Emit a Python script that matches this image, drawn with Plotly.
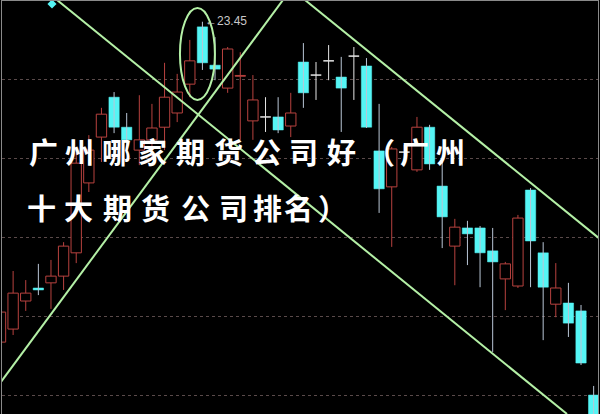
import plotly.graph_objects as go

# ---- data ----
open_ = [15.34, 15.67, 16.38, 16.71, 16.84, 17.01, 17.60, 19.37, 20.53, 21.54, 20.78, 20.20, 20.46, 20.78, 21.14, 21.87,
         23.32, 22.35, 21.77, 22.07, 20.94, 21.04, 21.04, 20.81, 22.43, 22.10, 22.46, 22.05, 22.58, 22.33, 20.18, 19.27,
         20.15, 19.70, 20.78, 19.29, 17.77, 18.23, 18.23, 17.65, 16.94, 16.76, 19.19, 17.60, 16.30, 16.33, 16.13, 14.00]
close = [16.10, 16.58, 16.58, 16.66, 17.01, 17.77, 19.87, 20.20, 21.11, 20.78, 20.46, 20.46, 20.76, 21.54, 21.67, 22.46,
         22.41, 22.25, 22.76, 22.09, 21.47, 21.04, 20.71, 21.14, 21.65, 22.10, 22.46, 21.77, 22.58, 20.78, 19.22, 20.23,
         20.15, 20.78, 19.85, 18.51, 18.25, 18.08, 17.60, 17.37, 17.32, 18.48, 17.90, 16.73, 16.71, 15.82, 14.81, 13.37]
high = [16.28, 17.14, 16.91, 17.32, 17.42, 17.87, 20.13, 20.58, 21.27, 21.67, 21.14, 21.59, 21.37, 22.41, 22.13, 22.99,
        23.45, 23.06, 22.81, 22.68, 22.10, 21.54, 21.54, 21.65, 22.91, 22.43, 22.86, 22.56, 22.81, 22.53, 21.37, 20.28,
        20.33, 21.04, 20.84, 19.95, 18.46, 18.41, 18.28, 18.23, 17.37, 18.56, 19.24, 17.87, 17.34, 16.84, 16.28, 14.23]
low = [15.14, 15.52, 16.13, 16.53, 16.18, 16.66, 17.34, 19.14, 19.90, 20.63, 20.20, 19.82, 19.95, 20.20, 20.91, 21.54,
       22.23, 21.97, 21.65, 20.46, 20.46, 20.66, 20.63, 20.53, 21.27, 21.47, 21.97, 20.66, 21.47, 20.76, 18.61, 17.75,
       19.82, 19.65, 19.70, 17.72, 16.78, 17.29, 16.73, 15.09, 16.15, 16.71, 16.73, 15.39, 15.97, 15.47, 14.76, 13.30]
peak_label = "←23.45"
peak_value = 23.45
peak_index = 16

# trend lines drawn on the chart (bar index, price)
trend_lines = [((4.48, 24.0), (44.89, 13.52)),
               ((-0.04, 14.30), (22.38, 24.0)),
               ((24.13, 24.0), (47.5, 17.95))]
ellipse_box = (14.22, 21.47, 16.99, 23.80)

title_line1 = list("广州哪家期货公司好（广州")
title_line2 = list("十大期货公司排名）")

# ---- styles ----
UP = "#b8423f"
DOWN = "#55f5f5"
DOWN_WICK = "#b9c6d6"
DOJI = "#e6e6e6"
GREEN = "#b4f0a6"

n = len(open_)
idx = list(range(n))

up_x, up_base, up_h = [], [], []
dn_x, dn_base, dn_h = [], [], []
wu_x, wu_y, wd_x, wd_y, wj_x, wj_y = [], [], [], [], [], []
dj_x, dj_y = [], []
for i in idx:
    o, c, h, l = open_[i], close[i], high[i], low[i]
    if c > o:
        up_x.append(i); up_base.append(o); up_h.append(c - o)
        wu_x += [i, i, None, i, i, None]; wu_y += [l, o, None, c, h, None]
    elif c < o:
        dn_x.append(i); dn_base.append(c); dn_h.append(o - c)
        wd_x += [i, i, None]; wd_y += [l, h, None]
    else:
        wj_x += [i, i, None]; wj_y += [l, h, None]
        dj_x += [i - 0.42, i + 0.42, None]; dj_y += [o, o, None]

fig = go.Figure()
fig.add_trace(go.Scatter(x=wu_x, y=wu_y, mode="lines", line=dict(color=UP, width=1), hoverinfo="skip"))
fig.add_trace(go.Scatter(x=wd_x, y=wd_y, mode="lines", line=dict(color=DOWN_WICK, width=1), hoverinfo="skip"))
fig.add_trace(go.Scatter(x=wj_x, y=wj_y, mode="lines", line=dict(color=DOJI, width=1), hoverinfo="skip"))
fig.add_trace(go.Bar(x=up_x, y=up_h, base=up_base, width=0.82,
                     marker=dict(color="black", line=dict(color=UP, width=1))))
fig.add_trace(go.Bar(x=dn_x, y=dn_h, base=dn_base, width=0.82,
                     marker=dict(color=DOWN, line=dict(color=DOWN, width=0.5))))
fig.add_trace(go.Scatter(x=dj_x, y=dj_y, mode="lines", line=dict(color=DOJI, width=1.5), hoverinfo="skip"))
fig.add_trace(go.Scatter(x=[4.08], y=[23.90], mode="markers",
                         marker=dict(symbol="diamond", size=7, color=DOWN), hoverinfo="skip"))

for (x0, y0), (x1, y1) in trend_lines:
    fig.add_shape(type="line", x0=x0, y0=y0, x1=x1, y1=y1, xref="x", yref="y",
                  line=dict(color=GREEN, width=2))
ex0, ey0, ex1, ey1 = ellipse_box
fig.add_shape(type="circle", x0=ex0, y0=ey0, x1=ex1, y1=ey1, xref="x", yref="y",
              line=dict(color=GREEN, width=2))

fig.add_annotation(x=peak_index + 0.08, y=peak_value + 0.03, text=peak_label, showarrow=False,
                   xanchor="left", yanchor="middle",
                   font=dict(family="Liberation Sans, Arial", size=12, color="#c8c8c8"))

W, H = 600, 414
ML, MR, MT, MB = 2, 2, 1, 0


def px2x(px):
    return (px - ML) / (W - ML - MR)


def py2y(py):
    return 1 - (py - MT) / (H - MT - MB)


line1_cx = [43, 79, 116, 152, 190, 228, 266, 303, 341, 380, 414, 450]
line2_cx = [41, 78, 117, 155, 195, 233, 267, 298, 333]
title_font = dict(family="Noto Sans CJK SC", size=29, color="white", weight="bold")
for ch, cx in zip(title_line1, line1_cx):
    fig.add_annotation(x=px2x(cx), y=py2y(151), xref="paper", yref="paper", text=ch, showarrow=False,
                       xanchor="center", yanchor="middle", font=title_font)
for ch, cx in zip(title_line2, line2_cx):
    fig.add_annotation(x=px2x(cx), y=py2y(207), xref="paper", yref="paper", text=ch, showarrow=False,
                       xanchor="center", yanchor="middle", font=title_font)

fig.update_layout(
    width=W, height=H, margin=dict(l=ML, r=MR, t=MT, b=MB, pad=0),
    paper_bgcolor="black", plot_bgcolor="black",
    showlegend=False, barmode="overlay",
    xaxis=dict(range=[0.119, 47.345], showgrid=False, zeroline=False, showticklabels=False, ticks="",
               showline=True, linecolor="#8a8a8a", linewidth=1, mirror=True),
    yaxis=dict(range=[13.52, 23.975], showgrid=True, gridcolor="#5a4a4a", griddash="dot", gridwidth=1,
               tickvals=[14, 16, 18, 20, 22], zeroline=False, showticklabels=False, ticks="",
               showline=True, linecolor="#8a8a8a", linewidth=1, mirror=True),
)

fig.write_html("out.html", config={"displayModeBar": False},
               post_script="document.body.style.margin='0';document.body.style.background='black';")
